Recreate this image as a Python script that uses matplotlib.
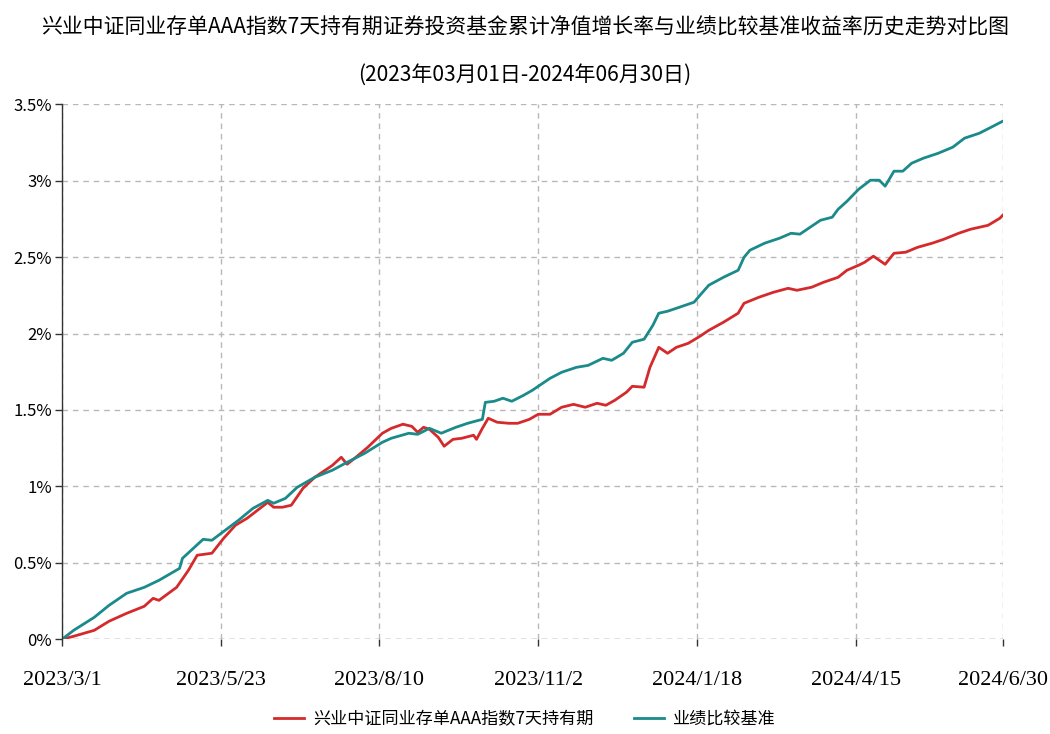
import matplotlib
matplotlib.use("Agg")
import matplotlib.pyplot as plt
from matplotlib.ticker import FuncFormatter

plt.rcParams['font.family'] = ['Noto Sans CJK SC', 'DejaVu Sans']

title = "兴业中证同业存单AAA指数7天持有期证券投资基金累计净值增长率与业绩比较基准收益率历史走势对比图"
subtitle = "(2023年03月01日-2024年06月30日)"
fund_name = "兴业中证同业存单AAA指数7天持有期"
bench_name = "业绩比较基准"

# x tick positions (trading-day index) and their date labels
tick_pos = [0, 54, 108, 162, 216, 270, 320]
tick_labels = ["2023/3/1", "2023/5/23", "2023/8/10", "2023/11/2",
               "2024/1/18", "2024/4/15", "2024/6/30"]

# fund cumulative NAV growth (%)
fund_idx = [0, 4, 11, 16, 22, 28, 31, 33, 39, 43, 46, 51, 55, 59, 63, 70, 72, 75,
            78, 82, 86, 92, 95, 97, 100, 104, 109, 112, 116, 119, 121, 123, 125,
            128, 130, 133, 136, 140, 141, 143, 145, 148, 152, 155, 159, 162, 166,
            170, 174, 178, 182, 185, 188, 192, 194, 198, 200, 203, 206, 209, 213,
            217, 220, 225, 230, 232, 237, 242, 247, 250, 255, 259, 264, 267, 271,
            273, 276, 280, 283, 287, 291, 296, 300, 305, 309, 315, 319, 320]
fund_val = [0.000, 0.020, 0.059, 0.118, 0.170, 0.216, 0.268, 0.255, 0.340, 0.451,
            0.550, 0.563, 0.661, 0.746, 0.792, 0.896, 0.864, 0.864, 0.877, 0.988,
            1.060, 1.138, 1.191, 1.145, 1.191, 1.256, 1.348, 1.380, 1.407, 1.393,
            1.354, 1.387, 1.374, 1.321, 1.263, 1.308, 1.315, 1.335, 1.308, 1.380,
            1.446, 1.420, 1.413, 1.413, 1.439, 1.472, 1.472, 1.518, 1.537, 1.518,
            1.544, 1.531, 1.563, 1.616, 1.655, 1.649, 1.779, 1.910, 1.871, 1.910,
            1.936, 1.982, 2.021, 2.074, 2.133, 2.198, 2.237, 2.270, 2.296, 2.283,
            2.303, 2.335, 2.368, 2.414, 2.447, 2.466, 2.506, 2.453, 2.525, 2.532,
            2.564, 2.591, 2.617, 2.656, 2.682, 2.708, 2.754, 2.774]

# benchmark return (%)
bench_idx = [0, 4, 11, 16, 22, 28, 33, 40, 41, 48, 51, 56, 60, 65, 70, 72, 76, 80,
             86, 92, 97, 103, 109, 112, 118, 121, 125, 129, 134, 138, 143, 144,
             147, 150, 153, 157, 160, 164, 166, 170, 175, 179, 184, 187, 191, 194,
             198, 201, 203, 206, 210, 215, 217, 220, 225, 230, 232, 234, 239, 244,
             248, 251, 255, 258, 262, 264, 267, 271, 275, 278, 280, 283, 286, 289,
             293, 298, 303, 307, 312, 316, 320]
bench_val = [0.000, 0.059, 0.144, 0.222, 0.301, 0.340, 0.386, 0.464, 0.530, 0.654,
             0.648, 0.720, 0.778, 0.857, 0.909, 0.890, 0.922, 0.994, 1.060, 1.106,
             1.158, 1.217, 1.289, 1.315, 1.348, 1.341, 1.380, 1.348, 1.387, 1.413,
             1.439, 1.550, 1.557, 1.577, 1.557, 1.596, 1.629, 1.681, 1.707, 1.747,
             1.779, 1.792, 1.838, 1.825, 1.871, 1.943, 1.963, 2.054, 2.133, 2.146,
             2.172, 2.205, 2.250, 2.316, 2.368, 2.414, 2.499, 2.545, 2.591, 2.623,
             2.656, 2.650, 2.702, 2.741, 2.761, 2.813, 2.865, 2.944, 3.003, 3.003,
             2.964, 3.062, 3.062, 3.114, 3.147, 3.179, 3.219, 3.278, 3.310, 3.349,
             3.389]

fig = plt.figure(figsize=(10.5, 7.34), dpi=100)
ax = fig.add_axes([0.059, 0.129, 0.896, 0.729])

red = '#d42a2c'
teal = '#1b8a8a'
ax.plot(fund_idx, fund_val, color=red, lw=2.0, label=fund_name)
ax.plot(bench_idx, bench_val, color=teal, lw=2.0, label=bench_name)

ax.set_xlim(0, 320)
ax.set_ylim(0, 3.5)
ax.set_yticks([0, 0.5, 1, 1.5, 2, 2.5, 3, 3.5])
ax.yaxis.set_major_formatter(FuncFormatter(lambda v, p: f"{v:g}%"))
ax.set_xticks(tick_pos)
ax.set_xticklabels(tick_labels, family='Liberation Serif', fontsize=16)
for t in ax.get_yticklabels():
    t.set_fontsize(12)

ax.grid(True, ls=(0, (4, 3.5)), color='#b8b8b8', lw=1.0)
for s in ['top', 'right', 'bottom']:
    ax.spines[s].set_visible(False)
ax.spines['left'].set_color('#333333')
ax.spines['left'].set_linewidth(1.0)
ax.axhline(0, color='#999999', lw=1.0, ls=(0, (4, 3.5)), zorder=1)
ax.tick_params(axis='x', length=5, width=1, color='#333333', pad=18)
ax.tick_params(axis='y', length=5, width=1, color='#333333', pad=2)

fig.text(0.5, 1 - 28 / 734, title, ha='center', va='center', fontsize=15.0)
fig.text(0.5, 1 - 75 / 734, subtitle, ha='center', va='center', fontsize=15.1)

fig.legend(loc='center', bbox_to_anchor=(0.5, 1 - 719 / 734), ncol=2,
           frameon=False, fontsize=12.3, handlelength=1.75, handletextpad=0.55,
           columnspacing=2.35)

fig.savefig("out.png", dpi=100)
